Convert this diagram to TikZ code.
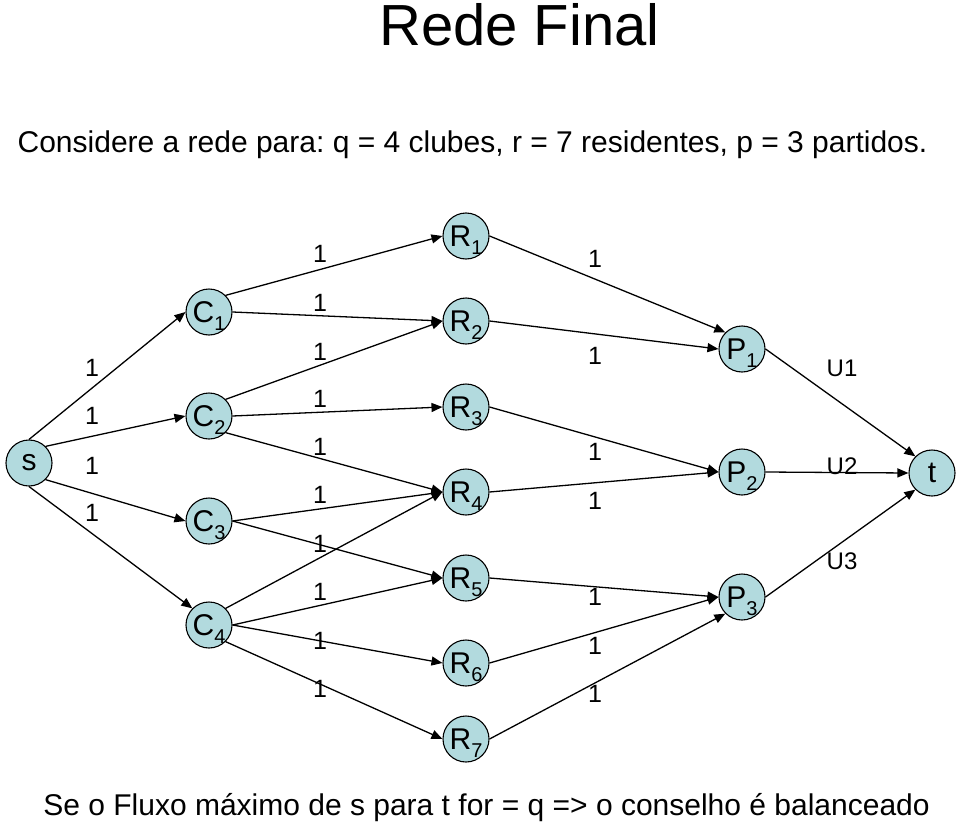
\documentclass[tikz,border=0pt]{standalone}
\usepackage{fontspec}
\setmainfont{Liberation Sans}
\usetikzlibrary{arrows.meta}
\definecolor{nodefill}{RGB}{178,218,222}
\newcommand{\nlab}[2]{#1\smash{\raisebox{-8pt}{\fontsize{20}{20}\selectfont #2}}}
\frenchspacing
\begin{document}
\begin{tikzpicture}[x=1pt,y=-1pt,
  vert/.style={circle,draw=black,line width=1.1pt,fill=nodefill,minimum size=46pt,inner sep=0pt,font=\fontsize{30}{30}\selectfont},
  edge/.style={line width=1.3pt,-{Triangle[length=11pt,width=9pt]}},
  wlab/.style={font=\fontsize{25}{25}\selectfont,inner sep=0pt},
  ulab/.style={font=\fontsize{24}{24}\selectfont,inner sep=0pt}]
\useasboundingbox (0,0) rectangle (960,824);

% texts
\node[anchor=base,font=\fontsize{58}{58}\selectfont,inner sep=0pt] (title) at (519.5,46) {Rede Final};
\node[anchor=base,font=\fontsize{30}{30}\selectfont,inner sep=0pt] (sub) at (472.5,152) {Considere a rede para: q = 4 clubes, r = 7 residentes, p = 3 partidos.};
\node[anchor=base,font=\fontsize{30}{30}\selectfont,inner sep=0pt] (foot) at (486.5,815) {Se o Fluxo máximo de s para t for = q => o conselho é balanceado};

% vertices
\node[vert] (s) at (29,463) {s};
\node[vert] (C1) at (209,312) {\nlab{C}{1}};
\node[vert] (C2) at (209,416) {\nlab{C}{2}};
\node[vert] (C3) at (209,521) {\nlab{C}{3}};
\node[vert] (C4) at (209,625) {\nlab{C}{4}};
\node[vert] (R1) at (466,236) {\nlab{R}{1}};
\node[vert] (R2) at (466,321) {\nlab{R}{2}};
\node[vert] (R3) at (466,407) {\nlab{R}{3}};
\node[vert] (R4) at (466,492) {\nlab{R}{4}};
\node[vert] (R5) at (466,578) {\nlab{R}{5}};
\node[vert] (R6) at (466,663) {\nlab{R}{6}};
\node[vert] (R7) at (466,739) {\nlab{R}{7}};
\node[vert] (P1) at (742,349) {\nlab{P}{1}};
\node[vert] (P2) at (742,472) {\nlab{P}{2}};
\node[vert] (P3) at (742,597) {\nlab{P}{3}};
\node[vert] (t) at (932,473) {t};

% edges s -> C
\draw[edge] (s.north) -- (C1.west);
\draw[edge] (s.north east) -- (C2.west);
\draw[edge] (s.south east) -- (C3.west);
\draw[edge] (s.south) -- (C4.north west);

% edges C -> R
\draw[edge] (C1.north east) -- (R1.west);
\draw[edge] (C1.east) -- (R2.west);
\draw[edge] (C2.north east) -- (R2.west);
\draw[edge] (C2.east) -- (R3.west);
\draw[edge] (C2.south east) -- (R4.west);
\draw[edge] (C3.east) -- (R4.west);
\draw[edge] (C3.east) -- (R5.west);
\draw[edge] (C4.north east) -- (R4.west);
\draw[edge] (C4.east) -- (R5.west);
\draw[edge] (C4.east) -- (R6.west);
\draw[edge] (C4.south east) -- (R7.west);

% edges R -> P
\draw[edge] (R1.east) -- (P1.north west);
\draw[edge] (R2.east) -- (P1.west);
\draw[edge] (R3.east) -- (P2.west);
\draw[edge] (R4.east) -- (P2.west);
\draw[edge] (R5.east) -- (P3.west);
\draw[edge] (R6.east) -- (P3.west);
\draw[edge] (R7.east) -- (P3.south west);

% edges P -> t
\draw[edge] (P1.east) -- (t.north west);
\draw[edge] (P2.east) -- (t.west);
\draw[edge] (P3.east) -- (t.south west);

% labels s -> C
\node[wlab] (l1) at (92,368) {1};
\node[wlab] (l2) at (92,416) {1};
\node[wlab] (l3) at (92,466) {1};
\node[wlab] (l4) at (92,513) {1};
% labels C -> R
\node[wlab] (m1) at (320,254) {1};
\node[wlab] (m2) at (320,303) {1};
\node[wlab] (m3) at (320,352) {1};
\node[wlab] (m4) at (320,399) {1};
\node[wlab] (m5) at (320,447) {1};
\node[wlab] (m6) at (320,495) {1};
\node[wlab] (m7) at (320,544) {1};
\node[wlab] (m8) at (320,592) {1};
\node[wlab] (m9) at (320,641) {1};
\node[wlab] (m10) at (320,689) {1};
% labels R -> P
\node[wlab] (n1) at (595,259) {1};
\node[wlab] (n2) at (595,356) {1};
\node[wlab] (n3) at (595,452) {1};
\node[wlab] (n4) at (595,501) {1};
\node[wlab] (n5) at (595,597) {1};
\node[wlab] (n6) at (595,646) {1};
\node[wlab] (n7) at (595,694) {1};
% labels P -> t
\node[ulab] (u1) at (842,368) {U1};
\node[ulab] (u2) at (842,466) {U2};
\node[ulab] (u3) at (842,561) {U3};
\end{tikzpicture}
\end{document}
